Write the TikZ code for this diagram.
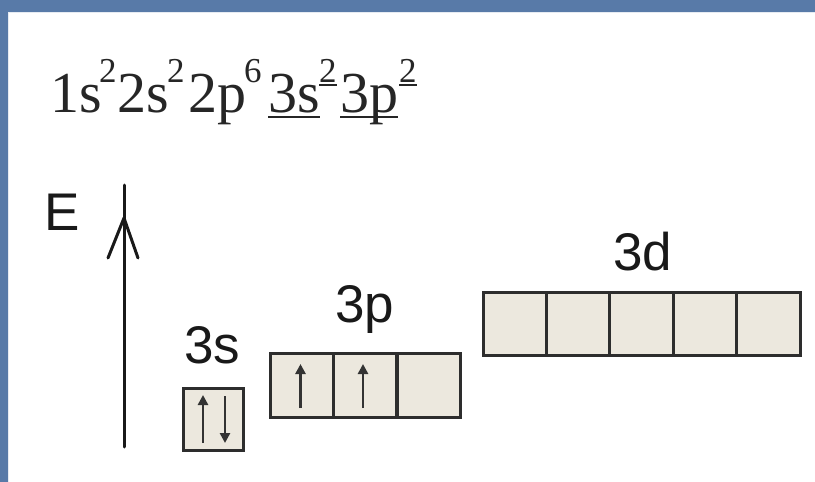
\documentclass[tikz,border=0pt]{standalone}
\usepackage{fontspec}
\setmainfont{Liberation Serif}
\newfontfamily\arialf{Liberation Sans}
\usetikzlibrary{arrows.meta,calc}
\definecolor{slideblue}{RGB}{88,122,168}
\definecolor{orbfill}{RGB}{236,232,222}
\definecolor{orbline}{RGB}{45,45,45}
\tikzset{
  mainchr/.style={inner sep=0pt, anchor=base west, font=\fontsize{58}{58}\selectfont, text=black!85},
  supchr/.style={inner sep=0pt, anchor=base west, font=\fontsize{35}{35}\selectfont, text=black!85},
  ulin/.style={line width=2pt, black!85},
  lbl/.style={inner sep=0pt, anchor=base, font=\arialf\fontsize{53}{53}\selectfont, text=black!90},
  orb/.style={draw=orbline, fill=orbfill, line width=3pt, inner sep=0pt, minimum height=63pt},
  spin/.style={line width=2.6pt, black!80, -{Triangle[width=10pt,length=10pt]}},
  eaxis/.style={line width=3pt, black!90, line cap=round, line join=round}
}
\begin{document}
\begin{tikzpicture}[x=1pt,y=-1pt]
\useasboundingbox (0,0) rectangle (815,482);
\fill[white] (0,0) rectangle (815,482);
% slide border
\fill[slideblue] (0,0) rectangle (815,12);
\fill[slideblue] (0,0) rectangle (8,482);
\draw[white!85!slideblue, line width=1pt] (8.5,482) -- (8.5,12.5) -- (815,12.5);

% electron configuration
\node[mainchr] (c1) at (50,112) {1s};
\node[supchr] (c1s) at (99,82) {2};
\node[mainchr] (c2) at (117,112) {2s};
\node[supchr] (c2s) at (167,82) {2};
\node[mainchr] (c3) at (188,112) {2p};
\node[supchr] (c3s) at (244,82) {6};
\node[mainchr] (c4) at (268,112) {3s};
\node[supchr] (c4s) at (319,82) {2};
\node[mainchr] (c5) at (340,112) {3p};
\node[supchr] (c5s) at (399,82) {2};
\draw[ulin] ([yshift=-5pt]c4.base west) -- ([yshift=-5pt]c4.base east);
\draw[ulin] ([yshift=-5pt]c5.base west) -- ([yshift=-5pt]c5.base east);
\draw[ulin] ([yshift=-3pt]c4s.base west) -- ([yshift=-3pt]c4s.base east);
\draw[ulin] ([yshift=-3pt]c5s.base west) -- ([yshift=-3pt]c5s.base east);

% energy axis
\node[lbl] (E) at (62,230) {E};
\coordinate (ebot) at (124,447);
\coordinate (etop) at (124,185);
\coordinate (ehead) at (124,218);
\draw[eaxis] (ebot) -- (etop);
\draw[eaxis] ($(ehead)+(-16,40)$) -- (ehead) -- ($(ehead)+(14,40)$);

% 3s
\node[lbl] (l3s) at (212,363) {3s};
\node[orb, minimum width=60pt, minimum height=62pt] (s1) at (213,419) {};
\draw[spin] ($(s1.center)+(-10,24)$) -- ($(s1.center)+(-10,-24)$);
\draw[spin] ($(s1.center)+(12,-23)$) -- ($(s1.center)+(12,24)$);

% 3p
\node[lbl] (l3p) at (365,322) {3p};
\node[orb, minimum width=63pt, minimum height=64pt] (p1) at (301.5,385) {};
\node[orb, minimum width=63pt, minimum height=64pt] (p2) at (365,385) {};
\node[orb, minimum width=63pt, minimum height=64pt] (p3) at (428.5,385) {};
\draw[spin] ($(p1.center)+(-1,23)$) -- ($(p1.center)+(-1,-21)$);
\draw[spin] ($(p2.center)+(-2,23)$) -- ($(p2.center)+(-2,-21)$);

% 3d
\node[lbl] (l3d) at (643,270) {3d};
\node[orb, minimum width=63.4pt] (d1) at (514.7,323.5) {};
\node[orb, minimum width=63.4pt] (d2) at (578.1,323.5) {};
\node[orb, minimum width=63.4pt] (d3) at (641.5,323.5) {};
\node[orb, minimum width=63.4pt] (d4) at (704.9,323.5) {};
\node[orb, minimum width=63.4pt] (d5) at (768.3,323.5) {};
\end{tikzpicture}
\end{document}
